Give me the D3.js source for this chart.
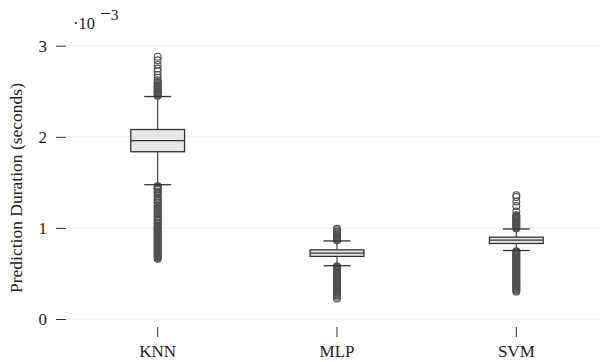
<!DOCTYPE html>
<html>
<head>
<meta charset="utf-8">
<script src="https://cdn.jsdelivr.net/npm/d3@7"></script>
<style>
html,body{margin:0;padding:0;background:#fff;}
svg{display:block;}
svg text{font-family:"Liberation Serif",serif;}
</style>
</head>
<body>
<svg id="chart" width="600" height="362"></svg>
<script>
// ---- data (values in 10^-3 seconds) ----
const categories = ["KNN", "MLP", "SVM"];
const q1 = [1.836, 0.687, 0.829];
const medians = [1.957, 0.723, 0.865];
const q3 = [2.080, 0.759, 0.898];
const whiskerLow = [1.474, 0.585, 0.752];
const whiskerHigh = [2.442, 0.857, 0.988];
const outliersKNN = [
  2.45,2.46,2.47,2.48,2.49,2.50,2.51,2.52,2.53,2.54,2.55,2.56,2.57,2.59,2.60,2.62,2.65,2.68,2.72,2.75,2.79,2.84,2.88,
  1.46,1.45,1.44,1.43,1.42,1.40,1.39,1.37,1.35,1.33,1.31,1.30,1.28,1.27,1.25,1.24,1.22,1.21,1.19,1.18,1.16,1.15,1.13,1.12,1.10,1.09,1.08,1.06,1.05,1.04,1.02,1.01,1.00,0.99,0.98,0.97,0.96,0.95,0.94,0.93,0.92,0.91,0.90,0.89,0.88,0.87,0.86,0.85,0.84,0.83,0.82,0.81,0.80,0.79,0.78,0.77,0.76,0.75,0.74,0.73,0.72,0.71,0.70,0.69,0.68,0.67,0.66
];
const outliersMLP = [
  0.865,0.87,0.88,0.89,0.90,0.91,0.92,0.93,0.94,0.95,0.96,0.975,0.99,
  0.58,0.57,0.56,0.55,0.54,0.53,0.52,0.51,0.50,0.49,0.48,0.47,0.46,0.45,0.44,0.43,0.42,0.41,0.40,0.39,0.38,0.37,0.36,0.35,0.34,0.33,0.32,0.31,0.30,0.29,0.28,0.27,0.26,0.245,0.225
];
const outliersSVM = [
  0.995,1.00,1.01,1.02,1.03,1.04,1.05,1.06,1.07,1.08,1.09,1.10,1.11,1.12,1.13,1.14,1.18,1.24,1.29,1.34,1.36,
  0.745,0.74,0.73,0.72,0.71,0.70,0.69,0.68,0.67,0.66,0.65,0.64,0.63,0.62,0.61,0.60,0.59,0.58,0.57,0.56,0.55,0.54,0.53,0.52,0.51,0.50,0.49,0.48,0.47,0.46,0.45,0.44,0.43,0.42,0.41,0.40,0.39,0.38,0.37,0.36,0.35,0.34,0.33,0.32,0.31,0.30
];
const outliers = [outliersKNN, outliersMLP, outliersSVM];
const yTicks = [0, 1, 2, 3];
const yLabel = "Prediction Duration (seconds)";

// ---- layout ----
const svg = d3.select("#chart");
const x = d3.scaleBand().domain(categories).range([68, 606]).paddingInner(0).paddingOuter(0);
const y = d3.scaleLinear().domain([0, 3]).range([319, 45.7]);
const boxW = x.bandwidth() * 0.3;
const capW = boxW * 0.5;

// grid
svg.append("g").selectAll("line").data(yTicks).join("line")
  .attr("x1", 67).attr("x2", 600)
  .attr("y1", d => y(d)).attr("y2", d => y(d))
  .attr("stroke", "#ebebeb").attr("stroke-width", 1);

// y axis (ticks + labels, no domain)
const yAxis = d3.axisLeft(y).tickValues(yTicks).tickSize(10).tickPadding(9).tickFormat(d3.format("d"));
const gy = svg.append("g").attr("transform", "translate(66,0)").call(yAxis);
gy.select(".domain").remove();
gy.attr("font-family", null);
gy.selectAll(".tick line").attr("stroke", "#333");
gy.selectAll(".tick text").attr("font-size", 17).attr("fill", "#222");

// x axis
const xAxis = d3.axisBottom(x).tickSize(10).tickPadding(8);
const gx = svg.append("g").attr("transform", "translate(0,327)").call(xAxis);
gx.select(".domain").remove();
gx.attr("font-family", null);
gx.selectAll(".tick line").attr("stroke", "#333");
gx.selectAll(".tick text").attr("font-size", 17).attr("fill", "#222");

// y label
svg.append("text")
  .attr("transform", "translate(22,188) rotate(-90)")
  .attr("text-anchor", "middle")
  .attr("font-size", 17.5).attr("fill", "#222")
  .text(yLabel);

// exponent
svg.append("text").attr("x", 73).attr("y", 28.5).attr("font-size", 16.5).attr("fill", "#222").text("·10");
svg.append("text").attr("x", 100).attr("y", 19.5).attr("font-size", 15).attr("fill", "#222")
  .append("tspan").attr("font-size", 19).text("−")
  .select(function () { return this.parentNode; })
  .append("tspan").attr("font-size", 15.5).text("3");

// boxes
const g = svg.append("g");
categories.forEach((c, i) => {
  const cx = x(c) + x.bandwidth() / 2;
  const gg = g.append("g");
  gg.append("line").attr("x1", cx).attr("x2", cx).attr("y1", y(q3[i])).attr("y2", y(whiskerHigh[i])).attr("stroke", "#444").attr("stroke-width", 1.2);
  gg.append("line").attr("x1", cx).attr("x2", cx).attr("y1", y(q1[i])).attr("y2", y(whiskerLow[i])).attr("stroke", "#444").attr("stroke-width", 1.2);
  gg.selectAll("circle").data(outliers[i]).join("circle")
    .attr("cx", cx).attr("cy", d => y(d)).attr("r", 3.4)
    .attr("fill", "none").attr("stroke", "#505050").attr("stroke-width", 1.1);
  [whiskerHigh[i], whiskerLow[i]].forEach(v => {
    gg.append("line").attr("x1", cx - capW / 2).attr("x2", cx + capW / 2).attr("y1", y(v)).attr("y2", y(v)).attr("stroke", "#333").attr("stroke-width", 1.3);
  });
  gg.append("rect").attr("x", cx - boxW / 2).attr("width", boxW)
    .attr("y", y(q3[i])).attr("height", y(q1[i]) - y(q3[i]))
    .attr("fill", "#e6e6e6").attr("stroke", "#333").attr("stroke-width", 1.3);
  gg.append("line").attr("x1", cx - boxW / 2).attr("x2", cx + boxW / 2).attr("y1", y(medians[i])).attr("y2", y(medians[i])).attr("stroke", "#333").attr("stroke-width", 1.3);
});
</script>
</body>
</html>
